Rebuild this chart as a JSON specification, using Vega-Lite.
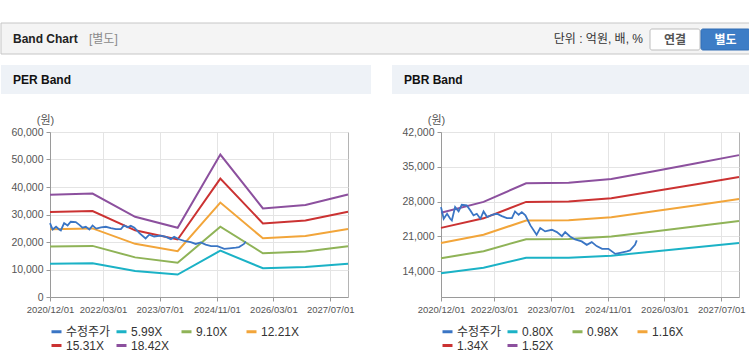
{
  "$schema": "https://vega.github.io/schema/vega-lite/v6.json",
  "background": "#ffffff",
  "padding": {"left": 0, "top": 22, "right": 0, "bottom": 0},
  "config": {
    "font": "Liberation Sans, Noto Sans CJK KR, sans-serif",
    "view": {"stroke": null},
    "axis": {"labelFont": "Liberation Sans, Noto Sans CJK KR, sans-serif", "labelFontSize": 10.5, "labelColor": "#555555", "tickColor": "#999999", "tickSize": 4, "domainColor": "#9a9a9a", "gridColor": "#e4e4e4", "labelPadding": 3}
  },
  "datasets": {
    "price": [
      {"d": "2020-12-01", "v": 26890}, {"d": "2020-12-24", "v": 24540}, {"d": "2021-01-22", "v": 25540}, {"d": "2021-02-18", "v": 24540},
      {"d": "2021-03-04", "v": 24210}, {"d": "2021-04-01", "v": 26890}, {"d": "2021-05-01", "v": 26020}, {"d": "2021-05-28", "v": 27360},
      {"d": "2021-07-10", "v": 27230}, {"d": "2021-08-10", "v": 26220}, {"d": "2021-09-06", "v": 25220}, {"d": "2021-10-04", "v": 25540},
      {"d": "2021-11-04", "v": 24540}, {"d": "2021-12-01", "v": 26020}, {"d": "2022-01-01", "v": 24880}, {"d": "2022-02-12", "v": 25340},
      {"d": "2022-03-25", "v": 25540}, {"d": "2022-05-07", "v": 25080}, {"d": "2022-06-19", "v": 24670}, {"d": "2022-08-01", "v": 24670},
      {"d": "2022-08-28", "v": 26020}, {"d": "2022-09-28", "v": 25340}, {"d": "2022-10-25", "v": 25880}, {"d": "2022-11-25", "v": 25220},
      {"d": "2023-01-07", "v": 23210}, {"d": "2023-03-01", "v": 21310}, {"d": "2023-04-01", "v": 22660}, {"d": "2023-05-13", "v": 22000},
      {"d": "2023-07-10", "v": 22330}, {"d": "2023-08-22", "v": 21860}, {"d": "2023-10-04", "v": 21050}, {"d": "2023-11-01", "v": 21860},
      {"d": "2023-12-13", "v": 20990}, {"d": "2024-01-25", "v": 20380}, {"d": "2024-03-22", "v": 19980}, {"d": "2024-05-04", "v": 19290},
      {"d": "2024-06-16", "v": 19840}, {"d": "2024-07-28", "v": 19040}, {"d": "2024-09-13", "v": 18490}, {"d": "2024-11-06", "v": 18490},
      {"d": "2025-01-04", "v": 17480}, {"d": "2025-02-15", "v": 17690}, {"d": "2025-04-13", "v": 17970}, {"d": "2025-05-10", "v": 18170},
      {"d": "2025-06-22", "v": 19290}, {"d": "2025-07-07", "v": 20180}
    ],
    "perBands": [
      {"d": "2020-12-01", "s": "5.99X", "v": 12100}, {"d": "2021-12-01", "s": "5.99X", "v": 12232}, {"d": "2022-12-01", "s": "5.99X", "v": 9482}, {"d": "2023-12-01", "s": "5.99X", "v": 8182},
      {"d": "2024-12-01", "s": "5.99X", "v": 16844}, {"d": "2025-12-01", "s": "5.99X", "v": 10471}, {"d": "2026-12-01", "s": "5.99X", "v": 10890}, {"d": "2027-12-01", "s": "5.99X", "v": 12130},
      {"d": "2020-12-01", "s": "9.10X", "v": 18382}, {"d": "2021-12-01", "s": "9.10X", "v": 18582}, {"d": "2022-12-01", "s": "9.10X", "v": 14405}, {"d": "2023-12-01", "s": "9.10X", "v": 12431},
      {"d": "2024-12-01", "s": "9.10X", "v": 25589}, {"d": "2025-12-01", "s": "9.10X", "v": 15907}, {"d": "2026-12-01", "s": "9.10X", "v": 16544}, {"d": "2027-12-01", "s": "9.10X", "v": 18428},
      {"d": "2020-12-01", "s": "12.21X", "v": 24664}, {"d": "2021-12-01", "s": "12.21X", "v": 24933}, {"d": "2022-12-01", "s": "12.21X", "v": 19328}, {"d": "2023-12-01", "s": "12.21X", "v": 16679},
      {"d": "2024-12-01", "s": "12.21X", "v": 34335}, {"d": "2025-12-01", "s": "12.21X", "v": 21343}, {"d": "2026-12-01", "s": "12.21X", "v": 22198}, {"d": "2027-12-01", "s": "12.21X", "v": 24725},
      {"d": "2020-12-01", "s": "15.31X", "v": 30926}, {"d": "2021-12-01", "s": "15.31X", "v": 31263}, {"d": "2022-12-01", "s": "15.31X", "v": 24236}, {"d": "2023-12-01", "s": "15.31X", "v": 20913},
      {"d": "2024-12-01", "s": "15.31X", "v": 43052}, {"d": "2025-12-01", "s": "15.31X", "v": 26762}, {"d": "2026-12-01", "s": "15.31X", "v": 27834}, {"d": "2027-12-01", "s": "15.31X", "v": 31003},
      {"d": "2020-12-01", "s": "18.42X", "v": 37208}, {"d": "2021-12-01", "s": "18.42X", "v": 37614}, {"d": "2022-12-01", "s": "18.42X", "v": 29159}, {"d": "2023-12-01", "s": "18.42X", "v": 25162},
      {"d": "2024-12-01", "s": "18.42X", "v": 51797}, {"d": "2025-12-01", "s": "18.42X", "v": 32198}, {"d": "2026-12-01", "s": "18.42X", "v": 33488}, {"d": "2027-12-01", "s": "18.42X", "v": 37301}
    ],
    "pbrBands": [
      {"d": "2020-12-01", "s": "0.80X", "v": 13560}, {"d": "2021-12-01", "s": "0.80X", "v": 14704}, {"d": "2022-12-01", "s": "0.80X", "v": 16680}, {"d": "2023-12-01", "s": "0.80X", "v": 16720},
      {"d": "2024-12-01", "s": "0.80X", "v": 17120}, {"d": "2025-12-01", "s": "0.80X", "v": 17960}, {"d": "2026-12-01", "s": "0.80X", "v": 18800}, {"d": "2027-12-01", "s": "0.80X", "v": 19656},
      {"d": "2020-12-01", "s": "0.98X", "v": 16611}, {"d": "2021-12-01", "s": "0.98X", "v": 18012}, {"d": "2022-12-01", "s": "0.98X", "v": 20433}, {"d": "2023-12-01", "s": "0.98X", "v": 20482},
      {"d": "2024-12-01", "s": "0.98X", "v": 20972}, {"d": "2025-12-01", "s": "0.98X", "v": 22001}, {"d": "2026-12-01", "s": "0.98X", "v": 23030}, {"d": "2027-12-01", "s": "0.98X", "v": 24079},
      {"d": "2020-12-01", "s": "1.16X", "v": 19662}, {"d": "2021-12-01", "s": "1.16X", "v": 21321}, {"d": "2022-12-01", "s": "1.16X", "v": 24186}, {"d": "2023-12-01", "s": "1.16X", "v": 24244},
      {"d": "2024-12-01", "s": "1.16X", "v": 24824}, {"d": "2025-12-01", "s": "1.16X", "v": 26042}, {"d": "2026-12-01", "s": "1.16X", "v": 27260}, {"d": "2027-12-01", "s": "1.16X", "v": 28501},
      {"d": "2020-12-01", "s": "1.34X", "v": 22713}, {"d": "2021-12-01", "s": "1.34X", "v": 24629}, {"d": "2022-12-01", "s": "1.34X", "v": 27939}, {"d": "2023-12-01", "s": "1.34X", "v": 28006},
      {"d": "2024-12-01", "s": "1.34X", "v": 28676}, {"d": "2025-12-01", "s": "1.34X", "v": 30083}, {"d": "2026-12-01", "s": "1.34X", "v": 31490}, {"d": "2027-12-01", "s": "1.34X", "v": 32924},
      {"d": "2020-12-01", "s": "1.52X", "v": 25764}, {"d": "2021-12-01", "s": "1.52X", "v": 27938}, {"d": "2022-12-01", "s": "1.52X", "v": 31692}, {"d": "2023-12-01", "s": "1.52X", "v": 31768},
      {"d": "2024-12-01", "s": "1.52X", "v": 32528}, {"d": "2025-12-01", "s": "1.52X", "v": 34124}, {"d": "2026-12-01", "s": "1.52X", "v": 35720}, {"d": "2027-12-01", "s": "1.52X", "v": 37346}
    ]
  },
  "spacing": 10,
  "vconcat": [
    {
      "width": 700,
      "height": 31,
      "data": {"values": [
        {"t": "Band Chart"}, {"t": "[별도]"}, {"t": "단위 : 억원, 배, %"}, {"t": "연결"}, {"t": "별도"}
      ]},
      "layer": [
        {
          "transform": [{"filter": "datum.t === 'Band Chart'"}],
          "mark": {"type": "rect", "fill": "#f4f4f4", "stroke": "#c6c6c6", "strokeWidth": 1},
          "encoding": {
            "x": {"datum": 0, "type": "quantitative", "axis": null, "scale": {"domain": [49, 749], "nice": false, "zero": false}},
            "x2": {"datum": 749},
            "y": {"datum": 0, "type": "quantitative", "axis": null, "scale": {"domain": [0, 31], "nice": false, "zero": false, "reverse": true}},
            "y2": {"datum": 31}
          }
        },
        {
          "transform": [{"filter": "datum.t === 'Band Chart'"}],
          "mark": {"type": "text", "align": "left", "baseline": "middle", "fontSize": 12, "fontWeight": "bold", "color": "#222222"},
          "encoding": {"x": {"datum": 12, "type": "quantitative"}, "y": {"datum": 16, "type": "quantitative"}, "text": {"field": "t"}}
        },
        {
          "transform": [{"filter": "datum.t === '[별도]'"}],
          "mark": {"type": "text", "align": "left", "baseline": "middle", "fontSize": 12, "color": "#8a8a8a"},
          "encoding": {"x": {"datum": 88, "type": "quantitative"}, "y": {"datum": 16, "type": "quantitative"}, "text": {"field": "t"}}
        },
        {
          "transform": [{"filter": "datum.t === '단위 : 억원, 배, %'"}],
          "mark": {"type": "text", "align": "right", "baseline": "middle", "fontSize": 12, "color": "#333333"},
          "encoding": {"x": {"datum": 642, "type": "quantitative"}, "y": {"datum": 16, "type": "quantitative"}, "text": {"field": "t"}}
        },
        {
          "transform": [{"filter": "datum.t === '연결'"}],
          "mark": {"type": "rect", "fill": "#ffffff", "stroke": "#bdbdbd", "strokeWidth": 1, "cornerRadius": 2},
          "encoding": {"x": {"datum": 649, "type": "quantitative"}, "x2": {"datum": 699}, "y": {"datum": 6, "type": "quantitative"}, "y2": {"datum": 27}}
        },
        {
          "transform": [{"filter": "datum.t === '별도'"}],
          "mark": {"type": "rect", "fill": "#3d7dc6", "stroke": "#336fb5", "strokeWidth": 1, "cornerRadius": 2},
          "encoding": {"x": {"datum": 700, "type": "quantitative"}, "x2": {"datum": 749}, "y": {"datum": 6, "type": "quantitative"}, "y2": {"datum": 27}}
        },
        {
          "transform": [{"filter": "datum.t === '연결'"}],
          "mark": {"type": "text", "align": "center", "baseline": "middle", "fontSize": 12, "fontWeight": "bold", "color": "#555555"},
          "encoding": {"x": {"datum": 674, "type": "quantitative"}, "y": {"datum": 16.5, "type": "quantitative"}, "text": {"field": "t"}}
        },
        {
          "transform": [{"filter": "datum.t === '별도'"}],
          "mark": {"type": "text", "align": "center", "baseline": "middle", "fontSize": 12, "fontWeight": "bold", "color": "#ffffff"},
          "encoding": {"x": {"datum": 724.5, "type": "quantitative"}, "y": {"datum": 16.5, "type": "quantitative"}, "text": {"field": "t"}}
        }
      ]
    },
    {
      "spacing": 20,
      "resolve": {"scale": {"color": "independent"}, "legend": {"color": "independent"}},
      "hconcat": [
        {
          "spacing": 19,
          "vconcat": [
            {
              "width": 321,
              "height": 29,
              "data": {"values": [{"t": "PER Band"}]},
              "layer": [
                {
                  "mark": {"type": "rect", "fill": "#eef2f7"},
                  "encoding": {
                    "x": {"datum": 0, "type": "quantitative", "axis": null, "scale": {"domain": [49, 370], "nice": false, "zero": false}},
                    "x2": {"datum": 370},
                    "y": {"datum": 0, "type": "quantitative", "axis": null, "scale": {"domain": [0, 29], "nice": false, "zero": false, "reverse": true}},
                    "y2": {"datum": 29}
                  }
                },
                {
                  "mark": {"type": "text", "align": "left", "baseline": "middle", "fontSize": 12, "fontWeight": "bold", "color": "#111111"},
                  "encoding": {"x": {"datum": 12, "type": "quantitative"}, "y": {"datum": 15, "type": "quantitative"}, "text": {"field": "t"}}
                }
              ]
            },
            {
              "width": 298,
              "height": 165,
              "view": {"stroke": "#b4b4b4"},
              "encoding": {
                "x": {"field": "d", "type": "temporal", "scale": {"type": "utc", "nice": false, "domain": [{"year": 2020, "month": 12, "date": 1, "utc": true}, {"year": 2027, "month": 12, "date": 1, "utc": true}]},
                  "axis": {"title": null, "labelExpr": "utcFormat(datum.value, '%Y/%m/%d')", "labelFontSize": 9.5, "labelOverlap": false, "labelFlush": false,
                    "values": [{"year": 2020, "month": 12, "date": 1, "utc": true}, {"year": 2022, "month": 3, "date": 1, "utc": true}, {"year": 2023, "month": 7, "date": 1, "utc": true}, {"year": 2024, "month": 11, "date": 1, "utc": true}, {"year": 2026, "month": 3, "date": 1, "utc": true}, {"year": 2027, "month": 7, "date": 1, "utc": true}]}},
                "y": {"field": "v", "type": "quantitative", "scale": {"domain": [0, 60000], "nice": false},
                  "axis": {"values": [0, 10000, 20000, 30000, 40000, 50000, 60000], "labelExpr": "format(datum.value, ',')", "labelOverlap": false, "title": "(원)", "titleAngle": 0, "titleX": -5, "titleY": -12, "titleAlign": "center", "titleBaseline": "middle", "titleFontSize": 11, "titleFontWeight": "normal", "titleColor": "#555555", "minExtent": 49, "maxExtent": 49}}
              },
              "layer": [
                {
                  "data": {"name": "perBands"},
                  "mark": {"type": "line", "strokeWidth": 2},
                  "encoding": {
                    "color": {"field": "s", "type": "nominal",
                      "scale": {"domain": ["수정주가", "5.99X", "9.10X", "12.21X", "15.31X", "18.42X"], "range": ["#3a75c4", "#1bb2c6", "#8fb357", "#f2a53a", "#cb3232", "#8c509e"]},
                      "legend": {"orient": "bottom", "title": null, "columns": 4, "symbolType": "stroke", "symbolStrokeWidth": 3, "symbolSize": 100, "labelFontSize": 12, "labelColor": "#333333", "gridAlign": "all", "columnPadding": -1, "rowPadding": 1, "labelOffset": 3, "offset": 11}}
                  }
                },
                {
                  "data": {"name": "price"},
                  "mark": {"type": "line", "strokeWidth": 1.8},
                  "encoding": {"color": {"datum": "수정주가", "type": "nominal"}}
                }
              ]
            }
          ]
        },
        {
          "spacing": 19,
          "vconcat": [
            {
              "width": 310,
              "height": 29,
              "data": {"values": [{"t": "PBR Band"}]},
              "layer": [
                {
                  "mark": {"type": "rect", "fill": "#eef2f7"},
                  "encoding": {
                    "x": {"datum": 0, "type": "quantitative", "axis": null, "scale": {"domain": [49, 359], "nice": false, "zero": false}},
                    "x2": {"datum": 359},
                    "y": {"datum": 0, "type": "quantitative", "axis": null, "scale": {"domain": [0, 29], "nice": false, "zero": false, "reverse": true}},
                    "y2": {"datum": 29}
                  }
                },
                {
                  "mark": {"type": "text", "align": "left", "baseline": "middle", "fontSize": 12, "fontWeight": "bold", "color": "#111111"},
                  "encoding": {"x": {"datum": 12, "type": "quantitative"}, "y": {"datum": 15, "type": "quantitative"}, "text": {"field": "t"}}
                }
              ]
            },
            {
              "width": 298,
              "height": 165,
              "view": {"stroke": "#b4b4b4"},
              "encoding": {
                "x": {"field": "d", "type": "temporal", "scale": {"type": "utc", "nice": false, "domain": [{"year": 2020, "month": 12, "date": 1, "utc": true}, {"year": 2027, "month": 12, "date": 1, "utc": true}]},
                  "axis": {"title": null, "labelExpr": "utcFormat(datum.value, '%Y/%m/%d')", "labelFontSize": 9.5, "labelOverlap": false, "labelFlush": false,
                    "values": [{"year": 2020, "month": 12, "date": 1, "utc": true}, {"year": 2022, "month": 3, "date": 1, "utc": true}, {"year": 2023, "month": 7, "date": 1, "utc": true}, {"year": 2024, "month": 11, "date": 1, "utc": true}, {"year": 2026, "month": 3, "date": 1, "utc": true}, {"year": 2027, "month": 7, "date": 1, "utc": true}]}},
                "y": {"field": "v", "type": "quantitative", "scale": {"domain": [8800, 42000], "nice": false, "zero": false},
                  "axis": {"values": [14000, 21000, 28000, 35000, 42000], "labelExpr": "format(datum.value, ',')", "labelOverlap": false, "title": "(원)", "titleAngle": 0, "titleX": -5, "titleY": -12, "titleAlign": "center", "titleBaseline": "middle", "titleFontSize": 11, "titleFontWeight": "normal", "titleColor": "#555555", "minExtent": 49, "maxExtent": 49}}
              },
              "layer": [
                {
                  "data": {"name": "pbrBands"},
                  "mark": {"type": "line", "strokeWidth": 2},
                  "encoding": {
                    "color": {"field": "s", "type": "nominal",
                      "scale": {"domain": ["수정주가", "0.80X", "0.98X", "1.16X", "1.34X", "1.52X"], "range": ["#3a75c4", "#1bb2c6", "#8fb357", "#f2a53a", "#cb3232", "#8c509e"]},
                      "legend": {"orient": "bottom", "title": null, "columns": 4, "symbolType": "stroke", "symbolStrokeWidth": 3, "symbolSize": 100, "labelFontSize": 12, "labelColor": "#333333", "gridAlign": "all", "columnPadding": -1, "rowPadding": 1, "labelOffset": 3, "offset": 11}}
                  }
                },
                {
                  "data": {"name": "price"},
                  "mark": {"type": "line", "strokeWidth": 1.8},
                  "encoding": {"color": {"datum": "수정주가", "type": "nominal"}}
                }
              ]
            }
          ]
        }
      ]
    }
  ]
}
